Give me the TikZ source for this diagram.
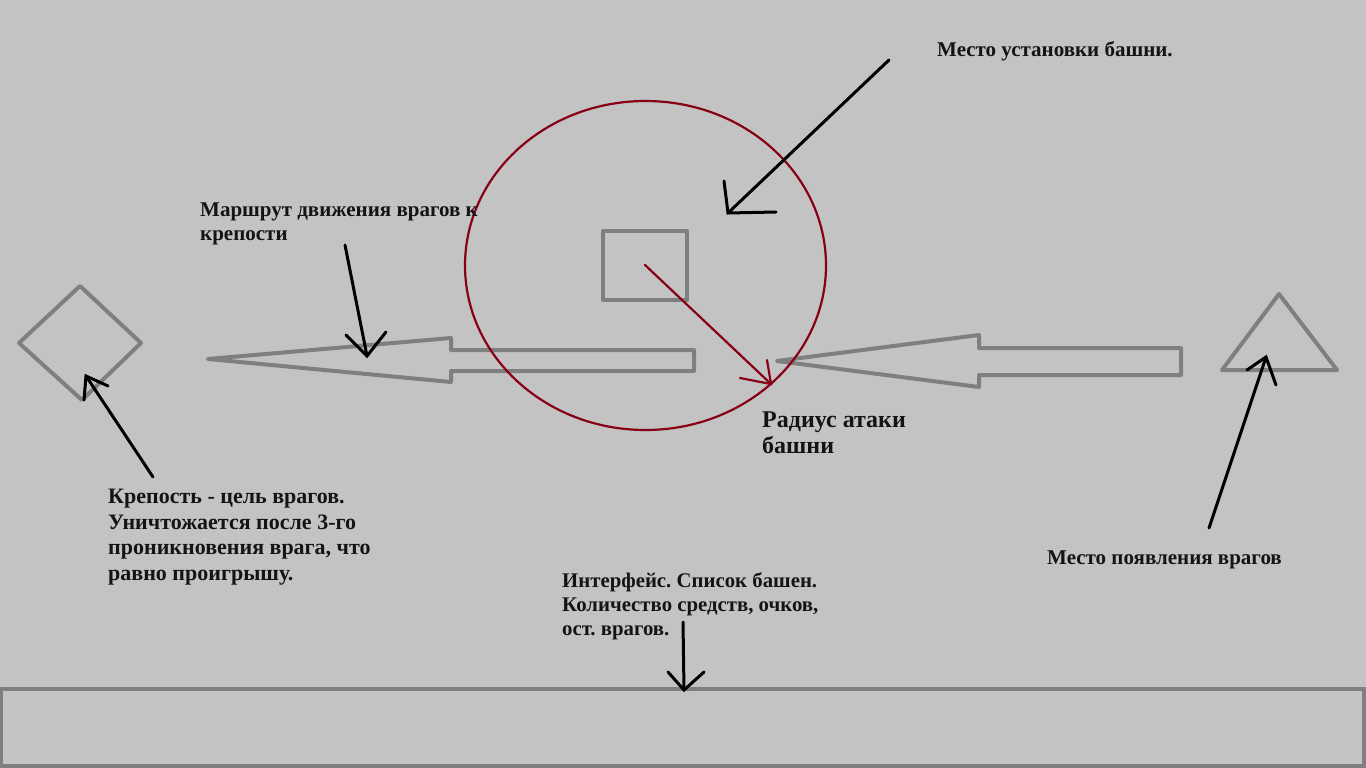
\documentclass[tikz,border=0pt]{standalone}
\usepackage{fontspec}
\setmainfont{Liberation Serif}
\definecolor{bg}{RGB}{195,195,195}
\definecolor{pgray}{RGB}{127,127,127}
\definecolor{pred}{RGB}{136,0,21}
\tikzset{
  shapeline/.style={draw=pgray,line width=4,line join=round,line cap=round},
  blackarrow/.style={draw=black,line width=3,line cap=round},
  redarrow/.style={draw=pred,line width=2.2,line cap=round},
  lbl/.style={anchor=base west,inner sep=0,align=left,font=\fontsize{21}{23.5}\selectfont\bfseries,text=black!92},
  fortlbl/.style={lbl,font=\fontsize{22}{25.5}\selectfont\bfseries},
  uilbl/.style={lbl,font=\fontsize{20.8}{24}\selectfont\bfseries},
  biglbl/.style={lbl,font=\fontsize{24}{25.5}\selectfont\bfseries}
}
\begin{document}
\frenchspacing
\begin{tikzpicture}[x=1pt,y=-1pt]
\fill[bg] (0,0) rectangle (1366,768);
\useasboundingbox (0,0) rectangle (1366,768);

% fortress (diamond)
\draw[shapeline] (80,286) -- (141,343) -- (82,400) -- (19,343) -- cycle;
\coordinate (fortress) at (86,376);

% left route arrow
\draw[shapeline] (208,359) -- (451,338) -- (451,350) -- (694,350) -- (694,371) -- (451,371) -- (451,382) -- cycle;
\coordinate (routepoint) at (367,356);

% right route arrow
\draw[shapeline] (777,361) -- (979,335) -- (979,348) -- (1181,348) -- (1181,375) -- (979,375) -- (979,387) -- cycle;

% spawn triangle
\draw[shapeline] (1279,294) -- (1337,370) -- (1222,370) -- cycle;
\coordinate (spawn) at (1266,357);

% tower square
\draw[shapeline] (603,231) rectangle (687,300);
\coordinate (tower) at (645,265);
\coordinate (towerplace) at (728,213);

% attack radius circle
\draw[pred,line width=2.2] (645.5,265.5) ellipse [x radius=180.5,y radius=164.5];
\coordinate (radiuspt) at (771,384);

% interface panel
\draw[shapeline,line cap=butt,line join=miter] (1,689) rectangle (1364,766);
\coordinate (panel) at (684,690);

% labels (anchored at the baseline of their last line)
\node[lbl] (lplace) at (937,57) {Место установки башни.};
\node[lbl] (lroute) at (200,240) {Маршрут движения врагов к\\крепости};
\node[biglbl] (lradius) at (762,453) {Радиус атаки\\башни};
\node[fortlbl] (lfort) at (108,580) {Крепость - цель врагов.\\Уничтожается после 3-го\\проникновения врага, что\\равно проигрышу.};
\node[lbl] (lspawn) at (1047,564) {Место появления врагов};
\node[uilbl] (lui) at (562,635) {Интерфейс. Список башен.\\Количество средств, очков,\\ост. врагов.};

% arrow start points
\coordinate (placestart) at (889,60);
\coordinate (routestart) at (345,245);
\coordinate (fortstart) at (153,477);
\coordinate (spawnstart) at (1209,528);
\coordinate (uistart) at (683,622);

% black arrows (hand drawn barbs)
\draw[blackarrow] (placestart) -- (towerplace);
\draw[blackarrow] (724,181) -- (towerplace) -- (776,212);

\draw[blackarrow] (routestart) -- (routepoint);
\draw[blackarrow] (346,335) -- (routepoint) -- (386,332);

\draw[blackarrow] (fortstart) -- (fortress);
\draw[blackarrow] (84,400) -- (fortress) -- (108,386);

\draw[blackarrow] (spawnstart) -- (spawn);
\draw[blackarrow] (1247,370) -- (spawn) -- (1276,385);

\draw[blackarrow] (uistart) -- (panel);
\draw[blackarrow] (668,672) -- (panel) -- (704,672);

% red arrow (radius)
\draw[redarrow] (tower) -- (radiuspt);
\draw[redarrow] (740,378) -- (radiuspt) -- (767,360);
\end{tikzpicture}
\end{document}
